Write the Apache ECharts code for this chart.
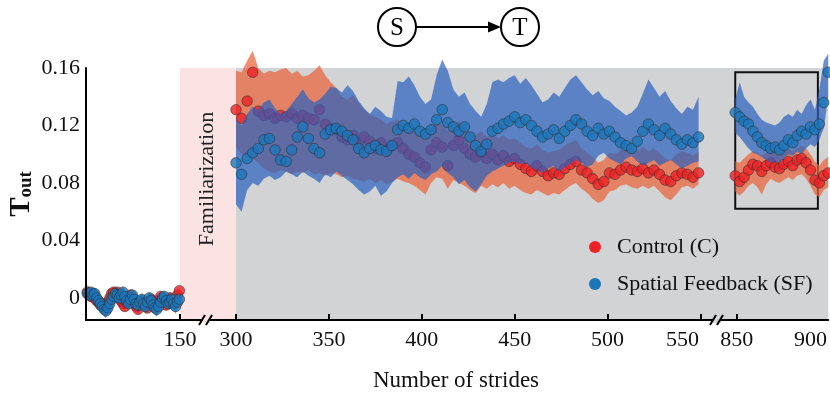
<!DOCTYPE html>
<html><head><meta charset="utf-8">
<script src="https://cdn.jsdelivr.net/npm/echarts@6/dist/echarts.min.js"></script>
<style>html,body{margin:0;padding:0;background:#fff}#c{width:830px;height:396px}</style>
</head><body><div id="c"></div>
<script>
// ---------- DATA ----------
// Baseline (strides 1-150)
const baseX = [2,5,8,11,14,17,20,23,26,29,32,35,38,41,44,47,50,53,56,59,62,65,68,71,74,77,80,83,86,89,92,95,98,101,104,107,110,113,116,119,122,125,128,131,134,137,140,143,146,149];
const blueMeanBase = [0.003,0.002,0.004,0.002,0.003,0.000,-0.002,-0.004,-0.006,-0.008,-0.009,-0.007,-0.004,-0.001,0.001,0.003,0.002,0.000,0.002,0.004,0.001,-0.002,-0.004,-0.001,0.002,-0.001,-0.004,-0.005,-0.003,-0.001,-0.004,-0.006,-0.003,0.000,-0.002,-0.005,-0.007,-0.008,-0.006,-0.003,0.000,0.001,-0.002,-0.004,-0.003,-0.001,-0.004,-0.006,-0.003,-0.001];
const blueLoBase = [-0.001,-0.002,0.000,-0.003,-0.001,-0.004,-0.006,-0.008,-0.010,-0.013,-0.014,-0.011,-0.008,-0.005,-0.003,-0.001,-0.002,-0.004,-0.002,0.000,-0.003,-0.006,-0.008,-0.005,-0.002,-0.005,-0.008,-0.010,-0.007,-0.005,-0.008,-0.011,-0.007,-0.004,-0.006,-0.009,-0.012,-0.013,-0.010,-0.007,-0.004,-0.003,-0.006,-0.008,-0.007,-0.005,-0.008,-0.011,-0.007,-0.005];
const blueHiBase = [0.007,0.006,0.008,0.006,0.007,0.004,0.002,0.000,-0.002,-0.004,-0.005,-0.003,0.000,0.003,0.005,0.007,0.006,0.004,0.006,0.008,0.005,0.002,0.000,0.003,0.006,0.003,0.000,-0.001,0.001,0.003,0.000,-0.002,0.001,0.004,0.002,-0.001,-0.003,-0.004,-0.002,0.001,0.004,0.005,0.002,0.000,0.001,0.003,0.000,-0.002,0.001,0.003];
const redMeanBase = [0.004,0.003,0.001,0.003,0.000,-0.002,-0.003,-0.005,-0.004,-0.007,-0.006,-0.003,0.000,0.003,0.004,0.002,0.004,0.001,-0.002,-0.004,-0.006,-0.003,0.000,0.002,-0.001,-0.004,-0.006,-0.008,-0.005,-0.002,-0.003,-0.005,-0.007,-0.004,-0.001,-0.003,-0.006,-0.004,-0.002,0.001,-0.001,-0.003,-0.005,-0.002,0.000,-0.002,-0.004,-0.001,0.002,0.005];
const redLoBase = [0.000,-0.001,-0.003,-0.001,-0.004,-0.006,-0.007,-0.009,-0.008,-0.011,-0.010,-0.007,-0.004,-0.001,0.000,-0.002,0.000,-0.003,-0.006,-0.008,-0.010,-0.007,-0.004,-0.002,-0.005,-0.008,-0.010,-0.012,-0.009,-0.006,-0.007,-0.009,-0.011,-0.008,-0.005,-0.007,-0.010,-0.008,-0.006,-0.003,-0.005,-0.007,-0.009,-0.006,-0.004,-0.006,-0.008,-0.005,-0.002,0.001];
const redHiBase = [0.009,0.008,0.005,0.007,0.004,0.002,0.001,-0.001,0.000,-0.003,-0.002,0.001,0.004,0.007,0.008,0.006,0.008,0.005,0.002,0.000,-0.002,0.001,0.004,0.006,0.003,0.000,-0.002,-0.004,-0.001,0.002,0.001,-0.001,-0.003,0.000,0.003,0.001,-0.002,0.000,0.002,0.005,0.003,0.001,-0.001,0.002,0.004,0.002,0.000,0.003,0.006,0.009];

// Adaptation (strides 300-550)
const adaptX = [300,303,306,309,312,315,318,321,324,327,330,333,336,339,342,345,348,351,354,357,360,363,366,369,372,375,378,381,384,387,390,393,396,399,402,405,408,411,414,417,420,423,426,429,432,435,438,441,444,447,450,453,456,459,462,465,468,471,474,477,480,483,486,489,492,495,498,501,504,507,510,513,516,519,522,525,528,531,534,537,540,543,546,549];
const blueMeanAdapt = [0.094,0.086,0.097,0.101,0.104,0.110,0.111,0.103,0.096,0.095,0.103,0.112,0.119,0.111,0.104,0.101,0.114,0.117,0.118,0.116,0.113,0.110,0.104,0.101,0.104,0.106,0.103,0.102,0.106,0.117,0.120,0.118,0.121,0.116,0.114,0.117,0.124,0.131,0.122,0.119,0.116,0.119,0.112,0.106,0.102,0.107,0.116,0.118,0.121,0.123,0.126,0.122,0.124,0.120,0.116,0.112,0.114,0.117,0.111,0.116,0.120,0.124,0.121,0.116,0.113,0.118,0.114,0.116,0.112,0.108,0.106,0.104,0.109,0.116,0.121,0.117,0.113,0.118,0.114,0.110,0.107,0.110,0.108,0.112];
const blueHiAdapt = [0.125,0.120,0.128,0.133,0.131,0.136,0.138,0.132,0.128,0.130,0.135,0.140,0.145,0.139,0.136,0.138,0.142,0.147,0.146,0.143,0.148,0.144,0.137,0.132,0.128,0.133,0.130,0.126,0.125,0.151,0.150,0.154,0.148,0.140,0.135,0.138,0.155,0.166,0.158,0.145,0.140,0.143,0.135,0.130,0.126,0.135,0.150,0.152,0.150,0.153,0.155,0.149,0.153,0.148,0.142,0.136,0.138,0.143,0.140,0.146,0.152,0.155,0.150,0.145,0.141,0.144,0.139,0.137,0.133,0.130,0.127,0.129,0.133,0.142,0.152,0.146,0.140,0.144,0.137,0.132,0.128,0.133,0.131,0.140];
const blueLoAdapt = [0.065,0.060,0.075,0.080,0.078,0.083,0.085,0.082,0.084,0.088,0.086,0.084,0.088,0.085,0.083,0.080,0.086,0.084,0.088,0.085,0.082,0.079,0.075,0.072,0.074,0.078,0.071,0.074,0.080,0.084,0.086,0.083,0.087,0.084,0.082,0.086,0.088,0.092,0.087,0.084,0.079,0.082,0.077,0.074,0.079,0.085,0.088,0.090,0.092,0.094,0.095,0.093,0.094,0.091,0.089,0.087,0.090,0.092,0.088,0.091,0.093,0.096,0.094,0.091,0.093,0.099,0.101,0.097,0.095,0.093,0.097,0.099,0.095,0.092,0.094,0.096,0.092,0.094,0.096,0.093,0.090,0.092,0.094,0.095];
const redMeanAdapt = [0.131,0.125,0.137,0.157,0.130,0.127,0.128,0.125,0.127,0.126,0.128,0.125,0.127,0.125,0.124,0.131,0.121,0.118,0.117,0.112,0.110,0.113,0.108,0.112,0.109,0.104,0.108,0.103,0.106,0.108,0.104,0.100,0.098,0.094,0.091,0.103,0.108,0.105,0.092,0.106,0.110,0.104,0.100,0.098,0.101,0.097,0.100,0.096,0.099,0.095,0.097,0.093,0.090,0.088,0.092,0.088,0.085,0.087,0.086,0.090,0.093,0.095,0.089,0.087,0.083,0.079,0.081,0.087,0.086,0.089,0.091,0.089,0.088,0.090,0.087,0.089,0.086,0.082,0.081,0.085,0.087,0.086,0.084,0.087];
const redHiAdapt = [0.158,0.157,0.165,0.172,0.160,0.156,0.158,0.157,0.159,0.160,0.156,0.158,0.154,0.155,0.158,0.162,0.155,0.150,0.146,0.140,0.138,0.141,0.136,0.131,0.128,0.126,0.124,0.121,0.123,0.124,0.121,0.118,0.116,0.113,0.112,0.118,0.122,0.121,0.116,0.120,0.123,0.119,0.115,0.113,0.116,0.112,0.114,0.111,0.113,0.110,0.111,0.108,0.105,0.104,0.107,0.103,0.101,0.102,0.103,0.106,0.108,0.110,0.104,0.101,0.098,0.094,0.096,0.101,0.100,0.103,0.105,0.104,0.102,0.105,0.102,0.104,0.101,0.097,0.096,0.100,0.102,0.101,0.099,0.102];
const redLoAdapt = [0.105,0.100,0.098,0.097,0.094,0.090,0.088,0.087,0.089,0.088,0.086,0.088,0.087,0.089,0.086,0.087,0.085,0.087,0.086,0.084,0.085,0.083,0.082,0.081,0.083,0.080,0.082,0.079,0.081,0.083,0.081,0.080,0.078,0.075,0.072,0.080,0.084,0.083,0.076,0.082,0.080,0.078,0.075,0.073,0.078,0.076,0.079,0.077,0.080,0.076,0.078,0.075,0.073,0.072,0.075,0.073,0.071,0.073,0.072,0.075,0.078,0.080,0.076,0.073,0.069,0.066,0.068,0.074,0.075,0.078,0.079,0.077,0.076,0.078,0.076,0.078,0.074,0.070,0.068,0.072,0.077,0.078,0.076,0.079];

// Retention (strides 850-910)
const postX = [849,852,855,858,861,864,867,870,873,876,879,882,885,888,891,894,897,900,903,906,909,912];
const blueMeanPost = [0.129,0.126,0.123,0.121,0.116,0.112,0.108,0.106,0.104,0.105,0.103,0.106,0.110,0.108,0.113,0.116,0.114,0.119,0.117,0.121,0.136,0.157];
const blueHiPost = [0.138,0.150,0.140,0.136,0.133,0.128,0.124,0.122,0.121,0.120,0.122,0.126,0.128,0.126,0.131,0.128,0.134,0.138,0.131,0.145,0.165,0.170];
const blueLoPost = [0.115,0.112,0.108,0.104,0.101,0.100,0.098,0.096,0.094,0.095,0.094,0.097,0.100,0.099,0.102,0.100,0.104,0.107,0.105,0.110,0.118,0.140];
const redMeanPost = [0.085,0.081,0.084,0.089,0.093,0.092,0.088,0.092,0.094,0.091,0.090,0.093,0.095,0.092,0.096,0.097,0.094,0.089,0.082,0.080,0.085,0.087];
const redHiPost = [0.095,0.094,0.097,0.100,0.102,0.101,0.099,0.101,0.103,0.102,0.100,0.103,0.104,0.102,0.104,0.106,0.104,0.100,0.095,0.092,0.096,0.098];
const redLoPost = [0.074,0.071,0.074,0.078,0.080,0.077,0.072,0.079,0.083,0.081,0.080,0.082,0.084,0.082,0.085,0.086,0.083,0.078,0.072,0.070,0.075,0.077];

const yTicks = [0, 0.04, 0.08, 0.12, 0.16];
const xTicksBase = [150];
const xTicksAdapt = [300, 350, 400, 450, 500, 550];
const xTicksPost = [850, 900];
const highlightBox = [[849, 0.062], [905, 0.157]];
const legendNames = ['Control (C)', 'Spatial Feedback (SF)'];

// ---------- CHART ----------
const FONT = 'Liberation Serif';
const Y_MIN = -0.0154, Y_MAX = 0.16;
const RED = '#ec2227', BLUE = '#1c76ba';
const RED_BAND = 'rgba(234,98,58,0.72)', BLUE_BAND = 'rgba(40,95,190,0.7)';
const GRAY = '#d1d3d4', PINK = '#fbe3e4';
const segs = [
  {left: 86, width: 94, min: 0, max: 150},
  {left: 180, width: 56, min: 150, max: 300},
  {left: 236, width: 483, min: 300, max: 560},
  {left: 719, width: 111, min: 838, max: 912}
];
const TOP = 68, HEIGHT = 252;

function band(name, xs, lo, hi, idx, color, z) {
  return {
    type: 'custom', name, xAxisIndex: idx, yAxisIndex: idx, z, silent: true, clip: false,
    data: xs.map((x, i) => [x, lo[i], hi[i]]),
    encode: {x: 0, y: [1, 2]},
    renderItem(params, api) {
      if (params.dataIndex !== 0) return null;
      const top = xs.map((x, i) => api.coord([x, hi[i]]));
      const bot = xs.map((x, i) => api.coord([x, lo[i]])).reverse();
      return {type: 'polygon', shape: {points: top.concat(bot)}, style: {fill: color}};
    }
  };
}
function dots(name, xs, ys, idx, color, z) {
  return {
    type: 'scatter', name, xAxisIndex: idx, yAxisIndex: idx, z, symbolSize: 10.5, clip: false,
    data: xs.map((x, i) => [x, ys[i]]),
    itemStyle: {color, borderColor: 'rgba(45,45,45,0.85)', borderWidth: 0.8},
    emphasis: {disabled: true}, silent: true
  };
}
function bg(idx, color, x0, x1) {
  return {
    type: 'scatter', xAxisIndex: idx, yAxisIndex: idx, z: 1, silent: true, symbolSize: 0,
    data: [[x0, Y_MIN]], itemStyle: {opacity: 0},
    markArea: {silent: true, itemStyle: {color}, data: [[{coord: [x0, Y_MIN]}, {coord: [x1, Y_MAX]}]]}
  };
}
const labelStyle = {fontFamily: FONT, fontSize: 22, color: '#111'};
function xAxis(i, ticks, labels, fmt) {
  return {
    gridIndex: i, type: 'value', min: segs[i].min, max: segs[i].max, z: 10,
    axisLine: {show: true, onZero: false, lineStyle: {color: '#000', width: 2}},
    axisTick: ticks.length ? {show: true, inside: true, length: 6, customValues: ticks, lineStyle: {color: '#000', width: 2}} : {show: false},
    axisLabel: labels.length ? Object.assign({show: true, customValues: labels, margin: 9, formatter: fmt,
      rich: {l: {fontFamily: FONT, fontSize: 22, color: '#111', padding: [0, 36, 0, 0]}}}, labelStyle) : {show: false},
    splitLine: {show: false}
  };
}
function yAxis(i) {
  const show = i === 0;
  const ax = {
    gridIndex: i, type: 'value', min: Y_MIN, max: Y_MAX, z: 10,
    axisLine: {show, onZero: false, lineStyle: {color: '#000', width: 2}},
    axisTick: {show: false},
    axisLabel: show ? Object.assign({show: true, customValues: yTicks, margin: 6,
      formatter: v => v === 0 ? '0' : v.toFixed(2)}, labelStyle) : {show: false},
    splitLine: {show: false}
  };
  if (show) {
    ax.name = '{a|T}{b|out}';
    ax.nameLocation = 'middle';
    ax.nameRotate = 90;
    ax.nameGap = 50;
    ax.nameTextStyle = {rich: {
      a: {fontFamily: FONT, fontWeight: 'bold', fontSize: 29, color: '#111'},
      b: {fontFamily: FONT, fontWeight: 'bold', fontSize: 19, color: '#111', padding: [10, 0, 0, 0]}
    }};
  }
  return ax;
}

const chart = echarts.init(document.getElementById('c'), null, {renderer: 'canvas'});
const slash = (x1, y1, x2, y2) => ({type: 'line', z: 100, shape: {x1, y1, x2, y2}, style: {stroke: '#000', lineWidth: 2}});
const legendItem = (name, color, y) => ([
  {type: 'circle', z: 100, shape: {cx: 595, cy: y, r: 6}, style: {fill: color}},
  {type: 'text', z: 100, x: 617, y: y, style: {text: '{n|' + name + '}', fill: '#111', align: 'left', verticalAlign: 'middle',
    rich: {n: {fontFamily: 'Times New Roman', fontSize: 22, fill: '#111', color: '#111'}}}}
]);
chart.setOption({
  animation: false,
  textStyle: {fontFamily: FONT},
  grid: segs.map(s => ({left: s.left, width: s.width, top: TOP, height: HEIGHT})),
  xAxis: [
    xAxis(0, xTicksBase, xTicksBase),
    xAxis(1, [], []),
    xAxis(2, xTicksAdapt, xTicksAdapt, v => v === 550 ? '{l|550}' : String(v)),
    xAxis(3, [850], xTicksPost)
  ],
  yAxis: [yAxis(0), yAxis(1), yAxis(2), yAxis(3)],
  graphic: [
    {type: 'circle', z: 100, shape: {cx: 397, cy: 27, r: 19}, style: {fill: '#fff', stroke: '#000', lineWidth: 2}},
    {type: 'circle', z: 100, shape: {cx: 520, cy: 27, r: 19}, style: {fill: '#fff', stroke: '#000', lineWidth: 2}},
    {type: 'line', z: 100, shape: {x1: 416, y1: 27, x2: 492, y2: 27}, style: {stroke: '#000', lineWidth: 2}},
    {type: 'polygon', z: 100, shape: {points: [[488, 21.5], [501, 27], [488, 32.5]]}, style: {fill: '#000'}},
    {type: 'text', z: 100, x: 397, y: 28, style: {text: 'S', fontFamily: FONT, fontSize: 25, fill: '#000', align: 'center', verticalAlign: 'middle'}},
    {type: 'text', z: 100, x: 520, y: 28, style: {text: 'T', fontFamily: FONT, fontSize: 25, fill: '#000', align: 'center', verticalAlign: 'middle'}},
    {type: 'text', z: 100, x: 207, y: 179, rotation: Math.PI / 2, style: {text: 'Familiarization', fontFamily: FONT, fontSize: 22, fill: '#222', align: 'center', verticalAlign: 'middle'}},
    {type: 'text', z: 100, x: 456, y: 381, style: {text: 'Number of strides', fontFamily: FONT, fontSize: 23, fill: '#111', align: 'center', verticalAlign: 'middle'}},
    {type: 'rect', z: 99, shape: {x: 202, y: 317, width: 8, height: 6}, style: {fill: PINK}},
    slash(199, 325, 205, 315), slash(206, 325, 212, 315),
    {type: 'rect', z: 99, shape: {x: 713, y: 317, width: 8, height: 6}, style: {fill: GRAY}},
    slash(710, 325, 716, 315), slash(717, 325, 723, 315),
    ...legendItem(legendNames[0], RED, 247),
    ...legendItem(legendNames[1], BLUE, 284)
  ],
  series: [
    bg(1, PINK, 150, 300),
    bg(2, GRAY, 300, 560),
    bg(3, GRAY, 838, 912),
    band('C band', baseX, redLoBase, redHiBase, 0, RED_BAND, 2),
    band('C band', adaptX, redLoAdapt, redHiAdapt, 2, RED_BAND, 2),
    band('C band', postX, redLoPost, redHiPost, 3, RED_BAND, 2),
    dots(legendNames[0], baseX, redMeanBase, 0, RED, 3),
    dots(legendNames[0], adaptX, redMeanAdapt, 2, RED, 3),
    dots(legendNames[0], postX, redMeanPost, 3, RED, 3),
    band('SF band', baseX, blueLoBase, blueHiBase, 0, BLUE_BAND, 4),
    band('SF band', adaptX, blueLoAdapt, blueHiAdapt, 2, BLUE_BAND, 4),
    band('SF band', postX, blueLoPost, blueHiPost, 3, BLUE_BAND, 4),
    dots(legendNames[1], baseX, blueMeanBase, 0, BLUE, 5),
    dots(legendNames[1], adaptX, blueMeanAdapt, 2, BLUE, 5),
    dots(legendNames[1], postX, blueMeanPost, 3, BLUE, 5),
    {
      type: 'scatter', xAxisIndex: 3, yAxisIndex: 3, z: 8, silent: true, symbolSize: 0,
      data: [[highlightBox[0][0], highlightBox[0][1]]], itemStyle: {opacity: 0},
      markArea: {silent: true, itemStyle: {color: 'rgba(0,0,0,0)', borderColor: '#111', borderWidth: 2},
        data: [[{coord: highlightBox[0]}, {coord: highlightBox[1]}]]}
    }
  ]
});
</script></body></html>
